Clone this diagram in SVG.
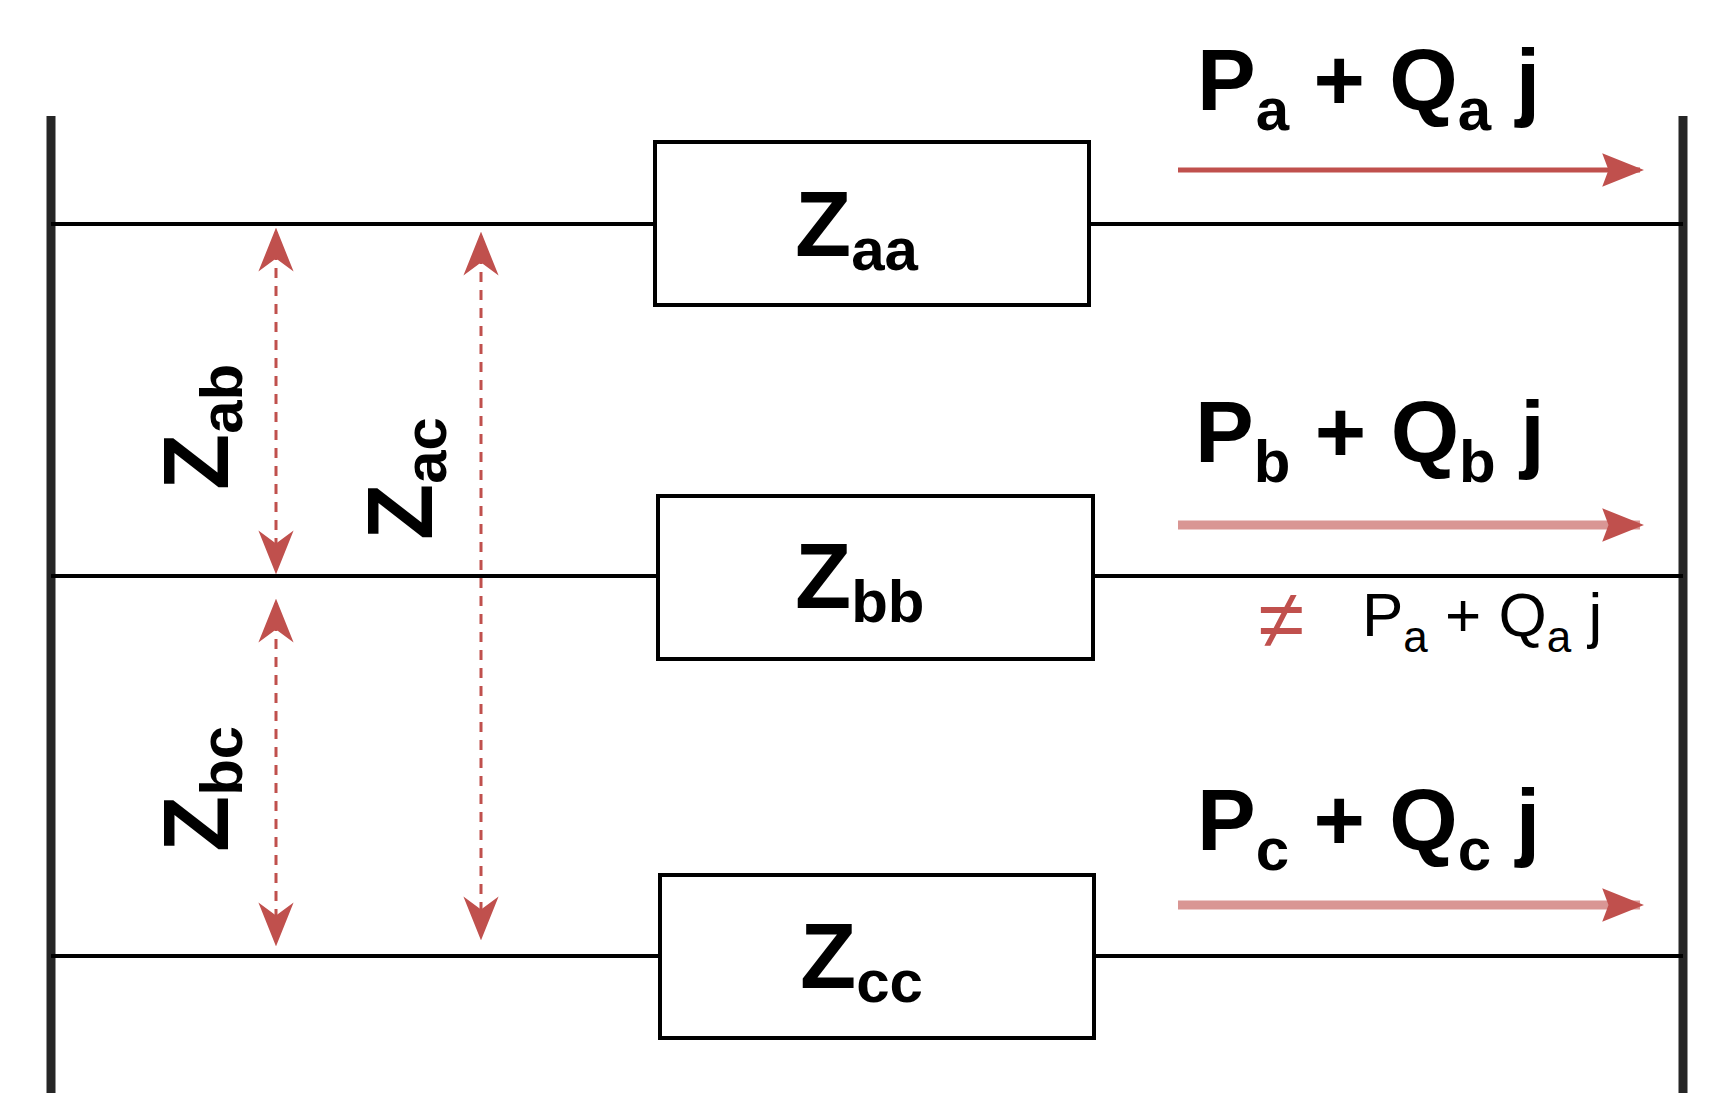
<svg xmlns="http://www.w3.org/2000/svg" width="1721" height="1118" viewBox="0 0 1721 1118">
<style>
.bus{stroke:#000;stroke-width:9;stroke-opacity:.85}
.ln{stroke:#000;stroke-width:4}
.box{fill:#fff;stroke:#000;stroke-width:4}
.t{font-family:"Liberation Sans",Arial,sans-serif;font-weight:bold;fill:#000}
.dash{stroke:#c0504d;stroke-width:3;stroke-dasharray:10 8}
</style>
<defs>
<marker id="big" viewBox="0 0 10 10" refX="9" refY="5" markerWidth="42" markerHeight="42" markerUnits="userSpaceOnUse" orient="auto"><path d="M0,1 L10,5 L0,9 L1.5,5 z" fill="#c0504d"/></marker>
<marker id="dh" viewBox="0 0 10 10" refX="9" refY="5" markerWidth="44" markerHeight="44" markerUnits="userSpaceOnUse" orient="auto-start-reverse"><path d="M0,1 L10,5 L0,9 L3,5 z" fill="#c0504d"/></marker>
</defs>
<rect width="1721" height="1118" fill="#fff"/>
<g id="connectors">
<line class="bus" x1="51" y1="116" x2="51" y2="1093"/>
<line class="bus" x1="1683" y1="116" x2="1683" y2="1093"/>
<line class="ln" x1="51" y1="224" x2="1683" y2="224"/>
<line class="ln" x1="51" y1="576" x2="1683" y2="576"/>
<line class="ln" x1="51" y1="956" x2="1683" y2="956"/>
<line x1="1178" y1="170" x2="1640" y2="170" stroke="#c0504d" stroke-width="5" marker-end="url(#big)"/>
<line x1="1178" y1="525" x2="1640" y2="525" stroke="#d99694" stroke-width="9" marker-end="url(#big)"/>
<line x1="1178" y1="905" x2="1640" y2="905" stroke="#d99694" stroke-width="9" marker-end="url(#big)"/>
<line class="dash" x1="276" y1="232" x2="276" y2="570" marker-start="url(#dh)" marker-end="url(#dh)"/>
<line class="dash" x1="276" y1="603" x2="276" y2="942" marker-start="url(#dh)" marker-end="url(#dh)"/>
<line class="dash" x1="481" y1="236" x2="481" y2="936" marker-start="url(#dh)" marker-end="url(#dh)"/>
</g>
<g id="Zaa"><rect class="box" x="655" y="142" width="434" height="163"/><text class="t" x="795" y="256" font-size="92">Z<tspan font-size="60" dy="14">aa</tspan></text></g>
<g id="Zbb"><rect class="box" x="658" y="496" width="435" height="163"/><text class="t" x="795" y="608" font-size="92">Z<tspan font-size="60" dy="14">bb</tspan></text></g>
<g id="Zcc"><rect class="box" x="660" y="875" width="434" height="163"/><text class="t" x="800" y="988" font-size="92">Z<tspan font-size="60" dy="14">cc</tspan></text></g>
<g id="labels">
<text class="t" x="1197" y="110" font-size="88">P<tspan font-size="60" dy="20">a</tspan><tspan dy="-20"> + Q</tspan><tspan font-size="60" dy="20">a</tspan><tspan dy="-20"> j</tspan></text>
<text class="t" x="1195" y="462" font-size="88">P<tspan font-size="60" dy="20">b</tspan><tspan dy="-20"> + Q</tspan><tspan font-size="60" dy="20">b</tspan><tspan dy="-20"> j</tspan></text>
<text class="t" x="1197" y="850" font-size="88">P<tspan font-size="60" dy="20">c</tspan><tspan dy="-20"> + Q</tspan><tspan font-size="60" dy="20">c</tspan><tspan dy="-20"> j</tspan></text>
<text x="1258" y="648" font-family="Liberation Sans,Arial,sans-serif" font-size="84" fill="#c0504d">≠</text>
<text x="1362" y="636" font-family="Liberation Sans,Arial,sans-serif" font-size="62" fill="#000">P<tspan font-size="44" dy="16">a</tspan><tspan dy="-16"> + Q</tspan><tspan font-size="44" dy="16">a</tspan><tspan dy="-16"> j</tspan></text>
<text class="t" font-size="92" transform="translate(228,490) rotate(-90)">Z<tspan font-size="60" dy="14">ab</tspan></text>
<text class="t" font-size="92" transform="translate(432,540) rotate(-90)">Z<tspan font-size="60" dy="14">ac</tspan></text>
<text class="t" font-size="92" transform="translate(228,852) rotate(-90)">Z<tspan font-size="60" dy="14">bc</tspan></text>
</g>
</svg>
